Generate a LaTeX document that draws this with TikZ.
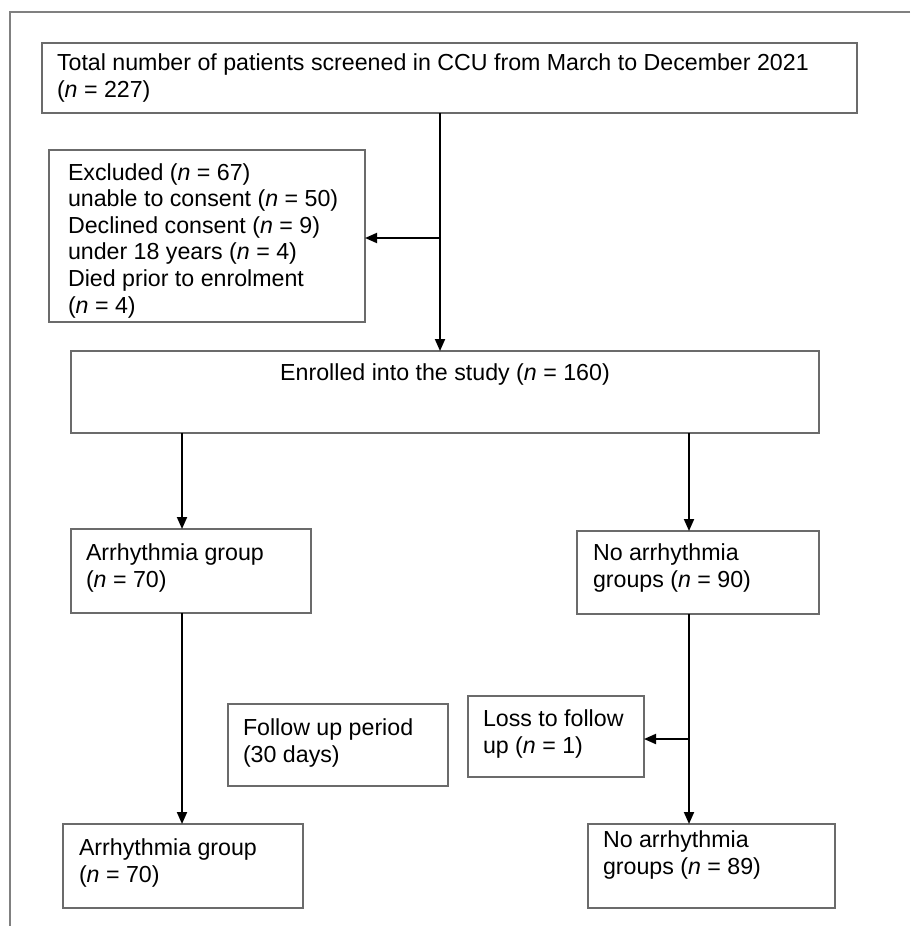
\documentclass[tikz,border=0pt]{standalone}
\usepackage{fontspec}
\setmainfont{Liberation Sans}
\usetikzlibrary{arrows.meta,calc}
\definecolor{boxgray}{HTML}{6B6B6B}
\definecolor{framegray}{HTML}{808080}
\begin{document}
\begin{tikzpicture}[x=1pt,y=-1pt,
  boxstyle/.style={draw=boxgray,line width=1.4pt,inner sep=0pt,outer sep=0pt,anchor=north west},
  txt/.style={inner sep=0pt,outer sep=0pt,align=left,anchor=base west,font=\fontsize{23.2}{26.6}\selectfont},
  conn/.style={line width=1.9pt,-{Triangle[length=12pt,width=10pt]}}]
\useasboundingbox (0,0) rectangle (910,926);
% frame
\draw[framegray,line width=1.3pt] (910,12) -- (10,12) -- (10,926);
% boxes
\node[boxstyle,minimum width=815pt,minimum height=70pt] (b1) at (42,43) {};
\node[boxstyle,minimum width=316pt,minimum height=172pt] (ex) at (49,150) {};
\node[boxstyle,minimum width=748pt,minimum height=82pt] (en) at (71,351) {};
\node[boxstyle,minimum width=240pt,minimum height=84pt] (ar1) at (71,529) {};
\node[boxstyle,minimum width=242pt,minimum height=83pt] (na1) at (577,531) {};
\node[boxstyle,minimum width=220pt,minimum height=82pt] (fu) at (228,704) {};
\node[boxstyle,minimum width=176pt,minimum height=81pt] (lo) at (468,696) {};
\node[boxstyle,minimum width=240pt,minimum height=84pt] (ar2) at (63,824) {};
\node[boxstyle,minimum width=247pt,minimum height=84pt] (na2) at (588,824) {};
% texts (anchor = baseline of the last line)
\node[txt] (t1) at (57,97) {Total number of patients screened in CCU from March to December 2021\\(\textit{n} = 227)};
\node[txt] (tex) at (68,313) {Excluded (\textit{n} = 67)\\unable to consent (\textit{n} = 50)\\Declined consent (\textit{n} = 9)\\under 18 years (\textit{n} = 4)\\Died prior to enrolment\\(\textit{n} = 4)};
\node[txt,anchor=base] (ten) at (445,380) {Enrolled into the study (\textit{n} = 160)};
\node[txt] (tar1) at (86,587) {Arrhythmia group\\(\textit{n} = 70)};
\node[txt] (tna1) at (593,587) {No arrhythmia\\groups (\textit{n} = 90)};
\node[txt] (tfu) at (243,762) {Follow up period\\(30 days)};
\node[txt] (tlo) at (483,753) {Loss to follow\\up (\textit{n} = 1)};
\node[txt] (tar2) at (79,882) {Arrhythmia group\\(\textit{n} = 70)};
\node[txt] (tna2) at (603,874) {No arrhythmia\\groups (\textit{n} = 89)};
% connectors
\coordinate (j1) at (440,238);
\coordinate (cl) at (182,600);
\coordinate (cr) at (689,739);
\draw[conn] (b1.south -| j1) -- (en.north -| j1);
\draw[conn] (j1) -- (ex.east |- j1);
\draw[conn] (en.south -| cl) -- (ar1.north -| cl);
\draw[conn] (ar1.south -| cl) -- (ar2.north -| cl);
\draw[conn] (en.south -| cr) -- (na1.north -| cr);
\draw[conn] (na1.south -| cr) -- (na2.north -| cr);
\draw[conn] (cr) -- (lo.east |- cr);
\end{tikzpicture}
\end{document}
